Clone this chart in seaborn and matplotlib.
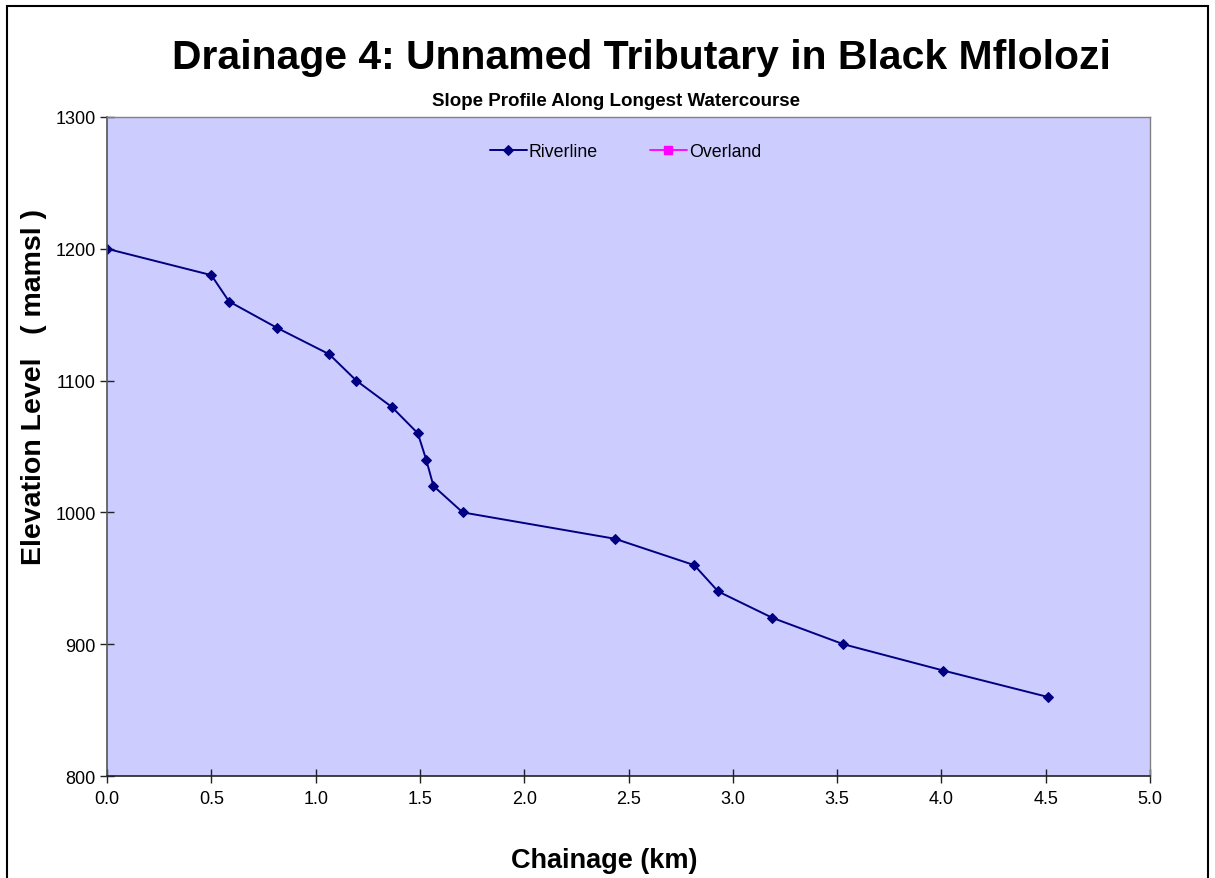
import matplotlib
matplotlib.use("Agg")
from matplotlib import pyplot as plt
from matplotlib.patches import Rectangle
import pandas as pd
import seaborn as sns

# Riverline profile (chainage in km, elevation in mamsl)
chainage_km = [0.0, 0.50, 0.585, 0.815, 1.065, 1.195, 1.365, 1.49, 1.53, 1.565,
               1.705, 2.435, 2.815, 2.93, 3.19, 3.53, 4.01, 4.51]
elevation = [1200, 1180, 1160, 1140, 1120, 1100, 1080, 1060, 1040, 1020,
             1000, 980, 960, 940, 920, 900, 880, 860]

x_ticks = [0.0, 0.5, 1.0, 1.5, 2.0, 2.5, 3.0, 3.5, 4.0, 4.5, 5.0]
y_ticks = [800, 900, 1000, 1100, 1200, 1300]

title = "Drainage 4: Unnamed Tributary in Black Mflolozi"
subtitle = "Slope Profile Along Longest Watercourse"

if __name__ == "__main__":
    sns.set_style("white")
    plt.rcParams["font.family"] = ["Liberation Sans", "DejaVu Sans"]
    plt.rcParams["text.color"] = "black"
    plt.rcParams["axes.labelcolor"] = "black"
    plt.rcParams["xtick.color"] = "black"
    plt.rcParams["ytick.color"] = "black"

    df = pd.DataFrame({"chainage": chainage_km, "elevation": elevation})

    fig = plt.figure(figsize=(12.15, 8.79), dpi=100)
    ax = fig.add_axes([0.0881, 0.1160, 0.8584, 0.7498])
    ax.set_facecolor("#CCCCFF")

    sns.lineplot(data=df, x="chainage", y="elevation", ax=ax, sort=False,
                 color="#000080", linewidth=1.4, marker="D", markersize=5.5,
                 markeredgecolor="#000080", label="Riverline")
    # Overland series has no data, only a legend entry
    ax.plot([], [], color="#FF00FF", linewidth=1.3, marker="s", markersize=6,
            label="Overland")

    ax.set_xlim(0, 5)
    ax.set_ylim(800, 1300)
    ax.set_xticks(x_ticks)
    ax.set_xticklabels([f"{t:.1f}" for t in x_ticks])
    ax.set_yticks(y_ticks)
    ax.tick_params(axis="both", bottom=True, left=True, direction="inout", length=10,
                   width=1, color="#222222", labelsize=13, pad=3)
    ax.tick_params(axis="x", pad=5)

    for side in ["top", "right"]:
        ax.spines[side].set_color("#808080")
        ax.spines[side].set_linewidth(1)
    ax.spines["left"].set_color("#555555")
    ax.spines["bottom"].set_color("#222222")
    ax.spines["left"].set_linewidth(1.2)
    ax.spines["bottom"].set_linewidth(1.2)

    ax.set_xlabel("Chainage (km)", fontsize=19.5, fontweight="bold")
    ax.set_ylabel("Elevation Level   ( mamsl )", fontsize=20.5, fontweight="bold")
    ax.xaxis.set_label_coords(0.477, -0.107)
    ax.yaxis.set_label_coords(-0.0575, 0.592)

    ax.legend(loc="upper center", bbox_to_anchor=(0.497, 0.985), ncol=2, frameon=False,
              fontsize=12.8, handlelength=2.1, columnspacing=2.9, handletextpad=0.1)

    fig.text(0.528, 0.934, title, ha="center", va="center", fontsize=29.4, fontweight="bold")
    fig.text(0.507, 0.885, subtitle, ha="center", va="center", fontsize=13.5, fontweight="bold")

    # outer frame, open at the bottom edge like the source screenshot
    fig.patches.append(Rectangle((7 / 1215, -0.05), 1201 / 1215, 1.05 - 7 / 879,
                                 transform=fig.transFigure, fill=False,
                                 edgecolor="black", linewidth=1.5, clip_on=False))

    fig.savefig("out.png", dpi=100)
